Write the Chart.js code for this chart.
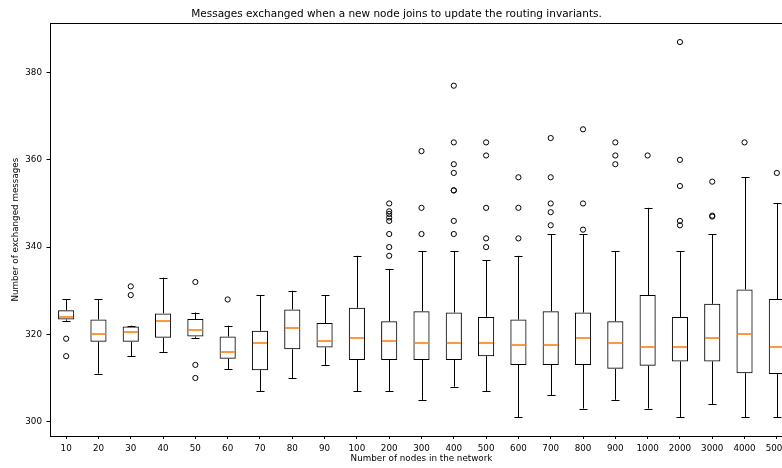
<!DOCTYPE html>
<html>
<head>
<meta charset="utf-8">
<script src="https://cdn.jsdelivr.net/npm/chart.js@4/dist/chart.umd.min.js"></script>
<style>
  html, body { margin: 0; padding: 0; background: #fff; overflow: hidden; }
  #wrap { width: 782px; height: 468px; overflow: hidden; }
</style>
</head>
<body>
<div id="wrap"><canvas id="boxChart" width="800" height="468"></canvas></div>
<script>
// node counts on the x axis
const labels = ['10', '20', '30', '40', '50', '60', '70', '80', '90', '100', '200', '300',
    '400', '500', '600', '700', '800', '900', '1000', '2000', '3000', '4000', '5000'];

// box statistics
const whiskerLow = [323.1, 311, 315, 316, 319.2, 312, 307, 310, 313, 307, 307, 305,
    308, 307, 301, 306, 303, 305, 303, 301, 304, 301, 301];
const q1 = [323.4, 318.3, 318.3, 319.2, 319.5, 314.4, 311.8, 316.6, 317, 314.1, 314.1, 314.1,
    314.1, 315, 313, 313, 313, 312.1, 312.8, 313.8, 313.8, 311.1, 310.9];
const medians = [323.9, 320, 320.5, 323.1, 321.1, 316, 318, 321.5, 318.4, 319.1, 318.4, 318,
    318, 318, 317.6, 317.6, 319.1, 318, 317.1, 317.1, 319.1, 320, 317.1];
const q3 = [325.5, 323.4, 321.8, 324.8, 323.5, 319.5, 320.8, 325.7, 322.6, 326.1, 323, 325.3,
    325, 324, 323.4, 325.3, 325, 323, 329, 324, 327, 330.3, 328.1];
const whiskerHigh = [328.1, 328, 322, 333, 325, 322, 329, 330, 329, 338, 335, 339,
    339, 337, 338, 343, 343, 339, 349, 339, 343, 356, 350];
const outliers = [
    [319, 315], [], [331, 329], [], [332, 313, 310], [328], [], [], [], [],
    [350, 348.2, 347.6, 346.8, 346, 343, 340, 338],
    [362, 349, 343],
    [377, 364, 359, 357, 353, 353, 346, 343],
    [364, 361, 349, 342, 340],
    [356, 349, 342],
    [365, 356, 350, 348, 345],
    [367, 350, 344],
    [364, 361, 359],
    [361],
    [387, 360, 354, 346, 345],
    [355, 347.2, 347],
    [364],
    [357]
];
const yTicks = [300, 320, 340, 360, 380];

const fontFamily = "'DejaVu Sans', sans-serif";

const boxes = labels.map((l, i) => [q1[i], q3[i]]);
const fliers = [];
outliers.forEach((list, i) => {
    list.forEach(v => fliers.push({ x: labels[i], y: v }));
});

// whiskers, caps, medians and the top spine
const boxExtras = {
    id: 'boxExtras',
    afterDatasetsDraw(chart) {
        const ctx = chart.ctx;
        const y = chart.scales.y;
        const area = chart.chartArea;
        const bars = chart.getDatasetMeta(0).data;
        ctx.save();
        bars.forEach((bar, i) => {
            const x = Math.round(bar.x) + 0.5;
            const half = bar.width / 2;
            const cap = bar.width / 4;
            ctx.lineWidth = 1;
            ctx.strokeStyle = '#000';
            ctx.beginPath();
            ctx.moveTo(x, y.getPixelForValue(q3[i]));
            ctx.lineTo(x, y.getPixelForValue(whiskerHigh[i]));
            ctx.moveTo(x, y.getPixelForValue(q1[i]));
            ctx.lineTo(x, y.getPixelForValue(whiskerLow[i]));
            const yh = Math.round(y.getPixelForValue(whiskerHigh[i])) + 0.5;
            const yl = Math.round(y.getPixelForValue(whiskerLow[i])) + 0.5;
            ctx.moveTo(x - cap, yh);
            ctx.lineTo(x + cap, yh);
            ctx.moveTo(x - cap, yl);
            ctx.lineTo(x + cap, yl);
            ctx.stroke();

            // median, a little heavier so the orange survives
            const ym = Math.round(y.getPixelForValue(medians[i]));
            ctx.lineWidth = 1.6;
            ctx.strokeStyle = '#ff7f0e';
            ctx.beginPath();
            ctx.moveTo(bar.x - half + 1, ym);
            ctx.lineTo(bar.x + half - 1, ym);
            ctx.stroke();
        });
        ctx.lineWidth = 1;
        ctx.strokeStyle = '#000';
        ctx.beginPath();
        ctx.moveTo(area.left, Math.round(area.top) + 0.5);
        ctx.lineTo(area.right, Math.round(area.top) + 0.5);
        ctx.stroke();
        ctx.restore();
    }
};

const ctx = document.getElementById('boxChart').getContext('2d');

new Chart(ctx, {
    type: 'bar',
    data: {
        labels: labels,
        datasets: [{
            label: 'boxes',
            data: boxes,
            backgroundColor: 'rgba(0,0,0,0)',
            borderColor: '#000',
            borderWidth: 1,
            borderSkipped: false,
            barPercentage: 0.5,
            categoryPercentage: 1
        }, {
            type: 'line',
            label: 'outliers',
            data: fliers,
            showLine: false,
            pointStyle: 'circle',
            pointRadius: 2.6,
            pointBackgroundColor: 'rgba(0,0,0,0)',
            pointBorderColor: '#000',
            pointBorderWidth: 1
        }]
    },
    options: {
        responsive: false,
        animation: false,
        events: [],
        layout: { padding: { left: 0, right: 7, top: 0, bottom: 0 } },
        plugins: {
            legend: { display: false },
            tooltip: { enabled: false },
            title: {
                display: true,
                text: 'Messages exchanged when a new node joins to update the routing invariants.',
                color: '#000',
                font: { family: fontFamily, size: 10.5, weight: 'normal' },
                padding: { top: 7.7, bottom: 3 }
            }
        },
        scales: {
            x: {
                type: 'category',
                offset: true,
                grid: { display: true, drawOnChartArea: false, offset: false, tickLength: 3, color: '#000' },
                border: { display: true, color: '#000', width: 1 },
                ticks: {
                    color: '#000',
                    autoSkip: false,
                    maxRotation: 0,
                    padding: 4,
                    font: { family: fontFamily, size: 8.75 }
                },
                title: {
                    display: true,
                    text: 'Number of nodes in the network',
                    color: '#000',
                    font: { family: fontFamily, size: 8.75 },
                    padding: { top: 0.25, bottom: 3.75 }
                },
                afterFit: s => { s.height = 32; }
            },
            y: {
                min: 296.7,
                max: 391.3,
                grid: { display: true, drawOnChartArea: false, tickLength: 3.5, color: '#000' },
                border: { display: true, color: '#000', width: 1 },
                ticks: {
                    color: '#000',
                    padding: 4.5,
                    font: { family: fontFamily, size: 8.75 }
                },
                title: {
                    display: true,
                    text: 'Number of exchanged messages',
                    color: '#000',
                    font: { family: fontFamily, size: 8.75 },
                    padding: { top: 10.75, bottom: 0 }
                },
                afterBuildTicks: s => { s.ticks = yTicks.map(v => ({ value: v })); },
                afterFit: s => { s.width = 50; }
            }
        }
    },
    plugins: [boxExtras]
});
</script>
</body>
</html>
